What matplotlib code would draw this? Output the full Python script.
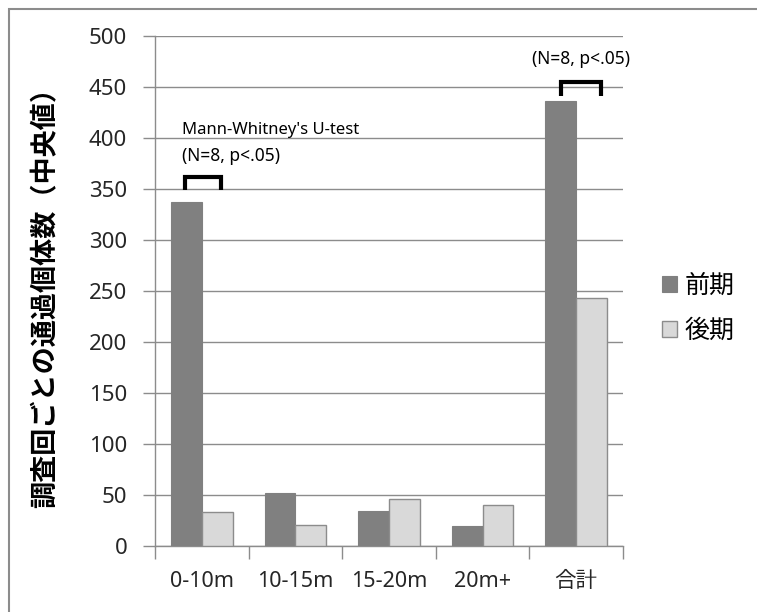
import matplotlib
matplotlib.use("Agg")
import matplotlib.pyplot as plt
import numpy as np
from matplotlib.patches import Rectangle

plt.rcParams["font.family"] = ["Noto Sans", "Noto Sans CJK JP", "DejaVu Sans"]

categories = ["0-10m", "10-15m", "15-20m", "20m+", "合計"]
early = [337, 52, 34, 20, 436]
late = [33, 21, 46, 40, 243]
series_names = ["前期", "後期"]

GRID = "#8c8c8c"
DARK = "#808080"
LIGHT = "#d9d9d9"

fig = plt.figure(figsize=(7.57, 6.12), dpi=100)
ax = fig.add_axes([155 / 757, 1 - 546 / 612, (623 - 155) / 757, (546 - 36) / 612])

x = np.arange(len(categories))
w = 0.33
ax.bar(x - w / 2, early, width=w, color=DARK, edgecolor=DARK, linewidth=0.8,
       label=series_names[0], zorder=3)
ax.bar(x + w / 2, late, width=w, color=LIGHT, edgecolor="#8c8c8c", linewidth=1.0,
       label=series_names[1], zorder=3)

ax.set_xlim(-0.5, len(categories) - 0.5)
ax.set_ylim(0, 500)
ax.set_yticks(np.arange(0, 501, 50))
ax.yaxis.grid(True, color=GRID, linewidth=1.0, zorder=0)
ax.set_axisbelow(True)

ax.set_xticks(x)
ax.set_xticklabels(categories)
ax.set_xticks(np.arange(-0.5, len(categories), 1), minor=True)
ax.tick_params(axis="x", which="major", length=0, labelsize=15.5, pad=18, colors="#262626")
ax.tick_params(axis="x", which="minor", length=9, width=1, color=GRID, direction="out")
ax.tick_params(axis="y", length=9, width=1, color=GRID, labelsize=16, pad=11,
               labelcolor="#262626")

for side in ["top", "right"]:
    ax.spines[side].set_visible(False)
for side in ["left", "bottom"]:
    ax.spines[side].set_color(GRID)
    ax.spines[side].set_linewidth(1.0)

ax.set_ylabel("調査回ごとの通過個体数（中央値）", fontsize=19.5, fontweight="bold",
              family=["Noto Sans CJK JP"], labelpad=21)


def bracket(xc, y_top, y_bot, left, right):
    ax.plot([xc + left, xc + left, xc + right, xc + right],
            [y_bot, y_top, y_top, y_bot], color="black", linewidth=3,
            solid_joinstyle="miter", solid_capstyle="butt", zorder=4, clip_on=False)


bracket(0, 362, 349, -0.18, 0.21)
bracket(4, 455, 441, -0.16, 0.26)

ax.text(-0.21, 408, "Mann-Whitney's U-test", fontsize=12, ha="left", va="center")
ax.text(-0.21, 382, "(N=8, p<.05)", fontsize=12.5, ha="left", va="center")
ax.text(4.05, 477, "(N=8, p<.05)", fontsize=12.5, ha="center", va="center", clip_on=False)

ax.legend(loc="center left", bbox_to_anchor=(1.035, 0.466), frameon=False,
          handlelength=0.6, handleheight=0.6, handletextpad=0.3, labelspacing=0.75,
          prop={"family": ["Noto Sans CJK JP"], "size": 18})

fig.patches.append(Rectangle((9 / 757, -0.1), 1.2, 1 - 9 / 612 + 0.1,
                             transform=fig.transFigure, fill=False,
                             edgecolor="#8c8c8c", linewidth=1.5))

fig.savefig("out.png", dpi=100)
